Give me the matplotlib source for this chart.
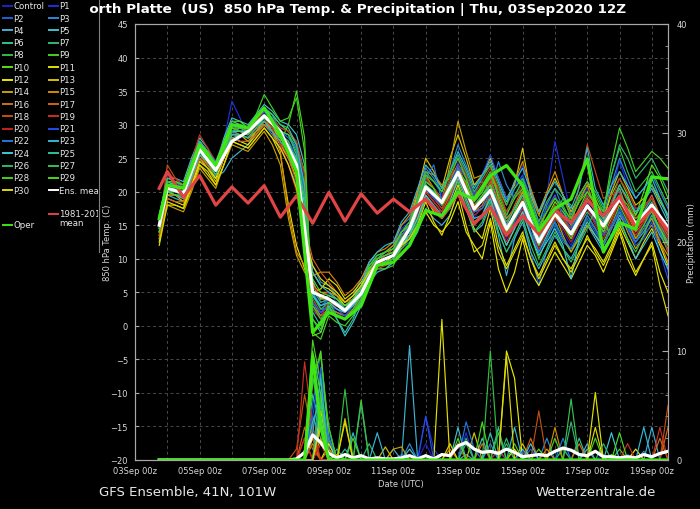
import matplotlib
matplotlib.use("Agg")
import matplotlib.pyplot as plt
import matplotlib.dates as mdates
from matplotlib.ticker import MultipleLocator, FixedLocator
from matplotlib.lines import Line2D
from matplotlib.transforms import Bbox
import numpy as np
import pandas as pd

plt.rcParams['font.family'] = ['DejaVu Sans']

# ---------------- data ----------------
TITLE = "North Platte  (US)  850 hPa Temp. & Precipitation | Thu, 03Sep2020 12Z"
FOOT_LEFT = "GFS Ensemble, 41N, 101W"
FOOT_RIGHT = "Wetterzentrale.de"
XLIM = ["2020-09-03 00:00", "2020-09-19 12:00"]
TICK_DATES = ["2020-09-03", "2020-09-05", "2020-09-07", "2020-09-09", "2020-09-11",
              "2020-09-13", "2020-09-15", "2020-09-17", "2020-09-19"]
TICK_LABELS = ["03Sep 00z", "05Sep 00z", "07Sep 00z", "09Sep 00z", "11Sep 00z",
               "13Sep 00z", "15Sep 00z", "17Sep 00z", "19Sep 00z"]
TEMP_TICKS = [-20, -15, -10, -5, 0, 5, 10, 15, 20, 25, 30, 35, 40, 45]
PREC_TICKS = [0, 10, 20, 30, 40]

# member series: 6-hourly 03Sep 18Z .. 19Sep 12Z (64 steps)
RUN_START = "2020-09-03 18:00"
RUN_END = "2020-09-19 12:00"
# mean / climate / oper: 03Sep 18Z, then 12-hourly 04Sep 00Z .. 19Sep 12Z (33 values)
LINE_FIRST = "2020-09-03 18:00"
LINE_START = "2020-09-04 00:00"

MEMBER_NAMES = ["Control"] + ["P%d" % i for i in range(1, 31)]
MEMBER_COLORS = ['#2020c8', '#2030d8', '#2060d8', '#3088d0', '#40b0d0', '#40c0c8',
                 '#30c098', '#30b870', '#30c040', '#48d020', '#58e010', '#e0e000',
                 '#e8e800', '#d8c000', '#c8a000', '#d88800', '#d07018', '#d06018',
                 '#c05010', '#c83020', '#c82020', '#2050e8', '#2078e0', '#30b8d8',
                 '#40c8d8', '#30c0a0', '#30b868', '#38c050', '#40d020', '#48d820',
                 '#e0d800']

# 850 hPa temperature (C); one row per day: 00Z, 06Z, 12Z, 18Z
T_CONTROL = [15.2,
    20.8, 20.5, 20.0, 23.0,  26.5, 25.0, 23.8, 26.0,  29.8, 28.0, 29.2, 30.5,
    31.8, 30.5, 28.0, 27.0,  25.5, 16.0, 4.0, 2.0,  3.5, 2.0, 1.0, 2.5,
    4.5, 8.0, 9.0, 9.5,  10.0, 13.0, 13.5, 17.0,  21.0, 19.0, 17.5, 20.0,
    24.5, 20.0, 16.0, 18.0,  20.5, 17.0, 13.0, 16.0,  19.0, 15.0, 11.5, 14.5,
    17.5, 14.0, 12.0, 15.0,  18.5, 16.0, 14.0, 17.0,  20.0, 17.0, 14.5, 17.0,
    19.5, 15.5, 12.0]
T_P1 = [16.0,
    21.5, 21.0, 20.5, 24.0,  27.0, 24.5, 23.0, 27.5,  33.5, 31.0, 28.0, 30.0,
    32.5, 31.0, 29.5, 29.0,  27.0, 22.0, 2.0, 1.5,  5.0, 3.5, 2.5, 3.0,
    6.0, 9.5, 10.5, 11.0,  11.5, 14.5, 15.5, 19.0,  22.5, 21.5, 19.5, 22.0,
    25.5, 22.5, 18.5, 20.0,  22.0, 19.0, 16.0, 20.5,  24.0, 20.0, 15.0, 19.5,
    27.5, 22.0, 16.5, 18.5,  20.5, 18.0, 15.5, 20.0,  24.5, 21.0, 17.0, 18.5,
    18.0, 13.0, 8.0]
T_P2 = [14.5,
    20.0, 19.5, 19.5, 22.0,  25.5, 24.0, 22.5, 25.5,  29.0, 27.5, 27.5, 28.5,
    30.5, 29.0, 27.0, 25.0,  23.0, 12.0, 7.0, 3.5,  4.0, 3.5, 3.0, 4.0,
    5.5, 7.5, 8.5, 8.5,  9.5, 11.5, 12.5, 15.0,  19.5, 17.5, 17.0, 17.5,
    21.0, 18.0, 15.5, 16.0,  19.0, 14.0, 11.0, 13.0,  16.5, 11.0, 6.0, 11.5,
    15.0, 12.5, 11.5, 13.0,  16.0, 14.0, 12.0, 14.5,  17.5, 15.0, 13.5, 15.0,
    17.0, 16.0, 14.5]
T_P3 = [15.5,
    21.0, 21.5, 20.5, 24.5,  27.5, 26.0, 24.5, 27.0,  30.0, 29.0, 29.5, 30.0,
    30.0, 28.5, 26.5, 24.0,  21.0, 14.0, 9.0, 6.5,  6.0, 4.5, 3.5, 4.5,
    7.0, 9.0, 10.0, 11.0,  12.0, 15.0, 16.0, 19.5,  23.5, 22.0, 20.0, 23.0,
    27.0, 24.0, 21.0, 21.5,  20.0, 24.5, 21.0, 19.0,  22.0, 17.0, 14.0, 18.0,
    20.5, 17.5, 15.0, 17.0,  19.5, 18.5, 16.5, 21.0,  25.0, 22.0, 19.0, 20.5,
    22.5, 20.0, 17.5]
T_P4 = [13.0,
    19.5, 19.0, 18.5, 21.5,  25.0, 23.5, 22.0, 23.0,  25.0, 26.0, 27.0, 29.0,
    31.0, 30.5, 29.0, 28.5,  26.5, 20.0, 5.0, 2.5,  2.5, 2.0, 1.5, 2.0,
    3.5, 6.5, 8.0, 8.5,  9.5, 10.5, 12.0, 14.0,  17.5, 16.0, 15.0, 16.5,
    20.0, 17.5, 14.0, 15.0,  18.0, 13.5, 7.5, 13.0,  15.5, 11.0, 8.5, 11.0,
    13.5, 11.5, 10.0, 12.5,  15.0, 13.0, 11.0, 13.5,  16.5, 14.5, 12.5, 14.0,
    16.0, 13.5, 11.5]
T_P5 = [16.5,
    22.0, 22.0, 21.5, 25.0,  28.0, 26.5, 24.0, 28.0,  31.0, 30.5, 30.0, 31.5,
    33.0, 32.0, 30.5, 30.0,  28.5, 24.0, 1.0, -1.0,  3.0, 1.0, -1.5, 0.5,
    3.0, 7.5, 9.5, 10.0,  10.5, 13.0, 14.0, 17.5,  20.0, 19.5, 18.5, 21.0,
    23.0, 20.0, 17.0, 17.5,  19.5, 16.5, 14.0, 16.0,  18.0, 15.0, 11.0, 13.5,
    16.0, 15.0, 14.0, 16.0,  17.5, 16.5, 15.0, 18.5,  21.0, 19.0, 16.5, 18.5,
    20.5, 18.0, 15.5]
T_P6 = [14.0,
    20.0, 19.5, 19.0, 22.5,  26.0, 25.0, 23.5, 26.0,  29.5, 29.0, 28.5, 30.0,
    31.5, 30.0, 28.5, 27.5,  24.0, 15.0, 6.0, 4.0,  4.5, 4.0, 3.0, 3.5,
    5.0, 8.5, 10.0, 10.5,  11.0, 13.5, 14.5, 18.0,  21.5, 20.5, 19.0, 20.0,
    22.5, 21.0, 18.0, 19.5,  21.5, 18.5, 15.5, 17.5,  20.0, 17.0, 13.5, 15.5,
    18.0, 16.0, 14.5, 17.0,  19.0, 17.5, 16.0, 18.0,  20.5, 17.0, 15.0, 16.5,
    18.5, 15.0, 13.0]
T_P7 = [15.0,
    20.5, 20.0, 19.5, 22.0,  26.0, 24.0, 22.0, 25.0,  28.0, 28.5, 28.0, 29.0,
    30.0, 29.5, 28.0, 27.0,  25.0, 19.0, 3.5, 1.5,  2.0, 1.5, 1.0, 2.0,
    4.0, 7.0, 9.0, 9.5,  10.0, 12.0, 13.0, 16.5,  20.5, 19.0, 18.0, 19.5,
    22.0, 20.0, 17.5, 18.5,  20.0, 17.5, 14.5, 16.0,  17.5, 15.0, 12.0, 14.0,
    16.5, 19.0, 18.0, 15.0,  17.0, 15.5, 14.0, 16.5,  19.0, 17.5, 16.0, 17.0,
    19.0, 16.5, 14.0]
T_P8 = [16.0,
    21.0, 20.5, 20.0, 23.5,  27.0, 26.0, 24.0, 27.0,  30.0, 29.5, 29.0, 31.0,
    32.0, 31.5, 29.0, 28.5,  26.0, 21.0, 4.5, 2.5,  3.5, 3.0, 2.0, 3.5,
    5.0, 9.0, 10.5, 11.0,  11.5, 14.0, 15.0, 18.5,  22.0, 20.5, 19.0, 21.5,
    24.0, 22.5, 19.0, 21.0,  23.0, 20.0, 17.0, 19.5,  21.5, 18.5, 15.0, 17.0,
    19.0, 18.0, 15.5, 19.0,  21.0, 19.5, 17.0, 22.5,  26.5, 23.0, 20.0, 21.5,
    23.0, 20.5, 18.0]
T_P9 = [14.5,
    20.5, 20.5, 20.0, 23.0,  26.5, 25.5, 23.5, 26.5,  29.0, 29.5, 29.0, 30.5,
    31.0, 29.5, 27.5, 30.0,  35.0, 28.0, -1.0, -2.0,  1.5, 0.5, 0.0, 1.5,
    3.5, 7.0, 8.5, 8.5,  9.0, 12.0, 13.5, 16.0,  19.5, 17.5, 16.5, 19.0,
    21.5, 18.5, 15.5, 16.5,  19.5, 15.0, 12.0, 14.5,  17.0, 13.5, 10.0, 13.0,
    15.5, 13.0, 11.0, 13.5,  16.5, 14.5, 12.5, 15.0,  18.0, 15.5, 13.0, 15.0,
    17.5, 14.0, 11.0]
T_P10 = [15.5,
    21.5, 21.0, 20.5, 24.0,  27.5, 26.0, 24.0, 27.5,  30.5, 30.5, 29.5, 31.0,
    32.5, 31.5, 30.0, 29.0,  27.0, 23.0, -1.5, -1.0,  2.5, 1.5, 1.0, 2.0,
    4.0, 8.0, 9.5, 9.5,  10.0, 12.5, 14.0, 17.5,  21.0, 20.0, 18.5, 21.0,
    23.5, 21.0, 18.0, 19.0,  21.0, 17.5, 14.0, 17.0,  19.5, 16.5, 13.0, 16.0,
    18.5, 17.0, 15.0, 17.5,  20.0, 18.0, 16.0, 19.5,  22.0, 19.5, 16.5, 20.0,
    24.0, 22.0, 19.0]
T_P11 = [13.5,
    19.0, 18.5, 18.0, 21.0,  24.0, 23.0, 21.0, 24.0,  27.5, 27.0, 26.5, 28.0,
    29.5, 28.0, 25.5, 18.0,  12.0, 8.5, 5.0, 5.5,  7.0, 6.0, 4.0, 5.0,
    6.5, 8.5, 10.0, 10.5,  11.0, 13.0, 14.5, 16.5,  19.0, 17.0, 16.0, 18.0,
    21.0, 17.5, 14.5, 13.0,  17.5, 12.0, 9.0, 11.5,  14.0, 10.0, 7.0, 9.5,
    12.0, 10.0, 8.5, 11.0,  13.0, 11.5, 9.5, 12.0,  15.0, 12.5, 10.0, 12.5,
    14.5, 12.0, 9.0]
T_P12 = [12.5,
    18.5, 18.0, 17.5, 21.0,  24.5, 23.5, 22.0, 25.0,  28.0, 27.5, 27.0, 28.5,
    30.0, 29.0, 27.0, 25.0,  22.0, 14.0, 8.0, 6.0,  5.5, 4.5, 3.0, 4.0,
    5.5, 8.0, 9.0, 9.5,  10.5, 12.0, 13.0, 15.0,  17.0, 15.0, 14.0, 15.5,
    18.5, 14.0, 12.0, 10.0,  15.5, 8.5, 5.0, 8.0,  13.0, 8.0, 6.0, 8.5,
    11.0, 9.0, 7.0, 9.5,  12.0, 10.5, 8.0, 11.0,  14.0, 10.0, 7.5, 10.0,
    12.5, 8.0, 5.0]
T_P13 = [14.0,
    19.5, 19.5, 18.5, 22.0,  25.0, 23.5, 21.5, 25.0,  28.5, 28.5, 27.5, 29.0,
    30.5, 29.5, 28.0, 27.0,  24.5, 16.0, 6.5, 4.0,  4.0, 3.5, 2.5, 3.5,
    4.5, 8.5, 9.5, 10.0,  10.5, 13.5, 15.0, 20.0,  25.0, 23.0, 20.5, 25.0,
    28.5, 25.0, 21.0, 22.5,  25.0, 22.0, 19.0, 21.0,  26.5, 19.5, 16.5, 19.5,
    22.0, 19.5, 17.0, 19.5,  21.5, 19.0, 16.0, 20.0,  23.0, 20.5, 18.0, 19.0,
    21.0, 18.5, 16.5]
T_P14 = [13.0,
    18.0, 17.5, 17.0, 20.0,  23.5, 22.0, 20.5, 24.0,  27.0, 26.5, 26.0, 27.5,
    29.0, 27.0, 24.0, 16.0,  10.5, 8.0, 6.0, 5.0,  5.0, 4.5, 3.5, 4.5,
    6.0, 8.5, 10.0, 11.0,  12.0, 14.0, 15.5, 19.0,  22.5, 20.5, 18.5, 24.0,
    30.5, 26.0, 22.0, 22.5,  24.0, 19.0, 16.0, 17.5,  20.0, 15.5, 13.0, 14.5,
    16.5, 13.5, 11.0, 13.0,  15.0, 13.5, 12.0, 14.5,  17.0, 14.0, 11.5, 13.5,
    15.0, 12.5, 10.5]
T_P15 = [14.5,
    19.5, 19.5, 19.0, 22.0,  25.5, 24.0, 22.5, 25.5,  28.5, 28.5, 28.0, 29.0,
    30.5, 29.0, 26.0, 17.0,  11.0, 9.0, 7.5, 8.0,  8.0, 6.5, 4.5, 5.5,
    7.0, 9.5, 11.0, 11.5,  12.5, 15.0, 16.5, 20.0,  23.0, 22.5, 21.0, 22.0,
    24.0, 22.0, 19.5, 20.5,  22.5, 20.5, 18.0, 21.5,  24.5, 20.5, 17.0, 20.0,
    23.0, 19.5, 16.0, 18.5,  21.0, 17.5, 14.5, 16.5,  19.0, 16.0, 13.0, 14.5,
    16.0, 12.5, 9.5]
T_P16 = [15.0,
    20.0, 20.0, 19.5, 22.5,  26.0, 24.5, 23.0, 26.0,  29.5, 29.0, 28.5, 30.0,
    31.0, 30.0, 28.5, 27.5,  23.5, 13.0, 3.0, 1.5,  2.5, 2.0, 1.5, 2.5,
    4.0, 7.5, 9.0, 9.5,  10.0, 12.5, 13.5, 16.5,  20.0, 18.5, 17.0, 19.5,
    22.5, 20.0, 17.0, 18.0,  20.5, 16.5, 13.5, 16.0,  18.5, 20.0, 16.5, 15.0,
    17.0, 15.0, 13.0, 15.5,  18.0, 15.5, 13.5, 16.0,  18.5, 16.5, 14.0, 15.5,
    17.5, 15.5, 13.5]
T_P17 = [13.5,
    19.0, 18.5, 18.5, 21.5,  25.0, 24.0, 22.5, 25.0,  28.0, 27.5, 27.5, 28.5,
    30.0, 29.0, 27.5, 25.0,  21.5, 15.0, 10.0, 8.0,  6.5, 5.0, 3.5, 4.0,
    5.5, 8.5, 9.5, 10.5,  11.5, 13.0, 14.0, 17.5,  21.0, 19.5, 18.0, 20.5,
    23.0, 21.0, 18.5, 20.0,  22.0, 18.5, 15.0, 18.0,  20.5, 17.5, 14.5, 17.0,
    19.5, 16.0, 13.5, 15.5,  18.0, 16.0, 14.5, 18.0,  21.0, 18.5, 16.0, 17.5,
    19.5, 16.5, 14.0]
T_P18 = [14.5,
    24.0, 22.0, 20.5, 24.0,  27.5, 25.5, 23.0, 26.5,  29.0, 28.5, 28.0, 29.5,
    31.5, 30.0, 28.5, 27.0,  24.0, 17.0, 4.0, 2.0,  3.0, 2.5, 2.0, 3.0,
    4.5, 7.5, 8.5, 9.0,  9.5, 11.5, 13.0, 16.5,  20.5, 19.0, 17.5, 20.0,
    24.0, 21.0, 18.0, 19.0,  21.5, 17.0, 14.5, 16.5,  19.0, 15.5, 13.0, 15.0,
    17.5, 16.0, 14.5, 21.0,  27.0, 23.0, 19.0, 19.5,  20.0, 17.0, 14.5, 16.0,
    17.0, 14.5, 12.5]
T_P19 = [15.0,
    22.5, 22.0, 21.0, 24.5,  28.5, 26.5, 24.5, 27.5,  30.5, 30.0, 29.0, 30.5,
    32.0, 31.0, 29.5, 29.0,  27.5, 22.5, 2.5, 1.0,  4.0, 2.5, 1.5, 2.5,
    4.0, 8.0, 9.0, 10.0,  10.5, 13.5, 14.5, 18.0,  22.0, 20.5, 19.0, 22.0,
    25.0, 22.5, 19.5, 21.5,  23.5, 20.5, 17.0, 19.0,  21.0, 17.5, 14.0, 16.0,
    18.0, 16.0, 14.0, 16.5,  19.5, 17.5, 15.0, 18.5,  22.0, 20.0, 17.5, 18.0,
    19.0, 15.0, 11.0]
T_P20 = [14.0,
    20.5, 20.0, 19.5, 22.5,  26.0, 24.5, 23.0, 26.0,  29.5, 29.0, 28.5, 29.5,
    31.0, 29.5, 27.0, 24.0,  20.0, 12.0, 6.0, 4.5,  5.0, 4.0, 2.5, 3.5,
    5.0, 8.0, 10.0, 10.5,  11.0, 12.5, 14.0, 16.5,  20.0, 18.5, 17.0, 19.0,
    22.0, 19.5, 16.5, 17.5,  19.5, 15.5, 12.5, 15.0,  17.5, 14.0, 11.5, 14.0,
    16.0, 14.5, 12.5, 15.0,  17.5, 15.0, 13.0, 15.5,  18.5, 16.0, 13.5, 15.5,
    18.0, 15.5, 13.0]
T_P21 = [15.5,
    21.0, 20.5, 20.0, 23.0,  26.5, 25.0, 23.0, 26.5,  29.0, 29.0, 28.5, 30.0,
    31.5, 30.0, 28.5, 27.5,  25.5, 18.0, 3.5, 2.0,  3.0, 2.5, 1.5, 3.0,
    5.0, 8.0, 9.5, 10.0,  10.5, 13.0, 14.0, 17.0,  20.5, 19.0, 18.0, 21.0,
    24.0, 22.0, 19.5, 22.5,  25.5, 22.0, 19.0, 20.5,  22.5, 19.0, 15.5, 17.5,
    19.5, 16.5, 14.5, 16.5,  18.0, 15.5, 13.5, 15.0,  17.0, 14.5, 12.0, 13.0,
    15.5, 11.0, 7.0]
T_P22 = [16.0,
    21.5, 21.5, 21.0, 24.0,  27.5, 26.0, 24.5, 27.5,  30.0, 30.0, 29.5, 31.0,
    32.0, 31.0, 29.0, 28.0,  26.5, 20.0, 5.0, 3.0,  4.0, 3.0, 2.0, 3.5,
    5.5, 8.5, 10.0, 10.5,  11.0, 13.5, 15.0, 18.0,  22.0, 24.0, 18.5, 20.0,
    23.5, 20.0, 17.0, 17.5,  20.0, 16.0, 13.5, 15.5,  18.0, 14.0, 11.0, 13.0,
    15.5, 13.0, 11.5, 14.0,  16.5, 14.5, 12.0, 14.5,  17.0, 15.0, 12.5, 14.5,
    16.5, 14.0, 12.0]
T_P23 = [14.0,
    20.0, 19.5, 19.0, 22.0,  25.5, 24.5, 22.5, 25.5,  28.5, 28.5, 28.0, 29.5,
    30.5, 29.0, 27.5, 26.0,  23.5, 15.5, 8.0, 6.0,  5.0, 4.0, 2.5, 4.0,
    6.0, 9.5, 11.0, 12.0,  12.5, 15.5, 17.0, 20.5,  24.0, 22.5, 20.5, 23.0,
    26.0, 23.5, 20.5, 22.5,  24.5, 21.5, 18.5, 21.5,  23.5, 20.0, 17.0, 19.5,
    21.5, 19.5, 17.5, 20.5,  26.5, 20.5, 18.0, 21.0,  23.0, 21.0, 19.0, 20.5,
    22.0, 19.0, 16.0]
T_P24 = [15.0,
    20.5, 20.0, 20.0, 23.0,  26.0, 25.0, 23.0, 26.0,  29.0, 29.0, 29.0, 30.0,
    31.0, 30.0, 28.0, 27.0,  25.0, 18.0, 4.5, 3.0,  3.5, 2.5, 2.0, 3.0,
    4.5, 7.5, 9.0, 9.5,  10.0, 12.0, 13.5, 16.0,  19.5, 18.0, 16.5, 18.5,
    22.0, 19.0, 16.0, 16.5,  19.0, 15.0, 12.0, 14.5,  17.0, 13.5, 10.5, 12.5,
    14.5, 12.0, 7.0, 13.0,  15.5, 13.5, 11.5, 13.5,  16.0, 13.0, 10.0, 12.0,
    14.0, 11.0, 8.5]
T_P25 = [16.5,
    22.0, 21.5, 21.0, 24.5,  27.5, 26.0, 24.0, 27.5,  30.5, 30.0, 29.5, 31.0,
    32.5, 31.5, 30.0, 29.5,  27.0, 21.0, 2.0, 0.0,  3.0, 1.0, -1.0, 1.0,
    4.0, 8.0, 9.5, 10.0,  10.5, 12.5, 13.5, 17.0,  21.0, 20.0, 18.5, 20.0,
    22.5, 20.0, 17.5, 19.0,  21.0, 18.0, 15.0, 17.5,  19.5, 16.0, 13.0, 15.5,
    17.5, 15.5, 14.0, 16.5,  19.0, 17.0, 15.5, 18.0,  21.0, 19.0, 17.0, 18.5,
    21.0, 19.0, 16.5]
T_P26 = [14.5,
    20.0, 20.0, 19.5, 22.5,  26.0, 24.5, 22.5, 25.5,  29.0, 28.5, 28.0, 29.5,
    31.0, 30.0, 28.5, 27.5,  24.5, 17.0, 5.5, 3.5,  4.0, 3.5, 2.5, 3.5,
    5.0, 8.5, 10.0, 11.0,  11.5, 14.0, 15.5, 19.0,  23.0, 21.5, 20.0, 23.0,
    25.5, 23.0, 20.0, 22.0,  24.0, 21.0, 18.0, 20.5,  22.0, 19.0, 15.5, 18.5,
    20.5, 19.0, 16.5, 19.5,  21.5, 20.0, 17.5, 22.5,  27.0, 25.0, 22.0, 23.5,
    25.0, 22.5, 20.0]
T_P27 = [15.0,
    21.0, 21.0, 20.5, 23.5,  27.0, 25.5, 23.5, 26.5,  29.5, 29.5, 29.0, 30.5,
    31.5, 30.5, 29.0, 28.5,  25.5, 19.0, 3.0, 1.0,  2.5, 1.5, 1.0, 2.0,
    4.0, 7.0, 9.0, 9.5,  10.0, 11.5, 13.0, 15.5,  19.0, 17.5, 16.0, 17.5,
    20.5, 17.5, 14.0, 15.5,  18.5, 14.0, 11.0, 13.5,  16.0, 12.0, 9.0, 11.5,
    14.0, 11.5, 9.5, 12.0,  14.5, 17.5, 16.0, 13.0,  15.5, 13.0, 11.0, 13.5,
    16.5, 14.5, 12.5]
T_P28 = [16.0,
    21.5, 21.5, 21.0, 24.0,  27.0, 26.0, 24.0, 27.0,  30.0, 30.0, 29.5, 31.5,
    34.5, 32.5, 30.5, 31.0,  34.0, 26.0, 1.0, -0.5,  3.5, 1.5, 1.0, 2.5,
    4.5, 9.0, 10.5, 11.0,  11.5, 14.0, 15.0, 18.5,  22.5, 21.5, 20.0, 22.5,
    25.0, 22.0, 18.5, 20.0,  22.5, 19.5, 16.5, 19.0,  20.5, 17.5, 14.5, 17.0,
    19.0, 17.5, 16.0, 18.5,  20.0, 18.5, 17.0, 24.0,  29.5, 26.5, 23.0, 24.5,
    26.0, 25.0, 23.5]
T_P29 = [14.0,
    20.0, 19.5, 19.5, 22.5,  26.0, 24.5, 23.0, 26.0,  29.5, 29.0, 28.5, 30.0,
    31.0, 30.0, 28.0, 26.5,  24.0, 16.0, 7.0, 5.0,  4.5, 4.0, 3.0, 4.0,
    5.5, 8.5, 10.0, 10.5,  11.0, 13.0, 14.5, 18.0,  21.5, 20.5, 18.0, 20.0,
    23.0, 21.5, 17.5, 19.5,  21.0, 17.0, 13.5, 16.0,  18.5, 15.5, 12.0, 15.0,
    17.5, 15.0, 13.0, 15.5,  18.0, 16.5, 14.0, 17.0,  19.5, 18.0, 15.5, 16.0,
    17.0, 14.5, 12.0]
T_P30 = [12.0,
    18.0, 18.0, 17.5, 20.5,  24.0, 22.5, 21.0, 24.0,  27.5, 27.0, 26.5, 28.0,
    29.5, 28.0, 26.5, 24.0,  20.5, 13.5, 9.0, 7.0,  6.0, 5.0, 3.5, 4.5,
    6.0, 8.0, 9.5, 10.0,  10.5, 12.0, 13.0, 15.0,  18.5, 15.5, 13.5, 16.5,
    20.0, 15.0, 11.0, 12.0,  16.0, 11.0, 8.5, 11.0,  13.5, 10.0, 7.5, 10.0,
    12.5, 10.0, 8.0, 10.5,  13.5, 11.0, 9.0, 11.5,  14.5, 11.0, 8.0, 10.0,
    12.0, 6.0, 1.5]

T_ENS_MEAN = [15.0, 20.5, 19.8, 26.3, 23.2, 27.5, 29.0, 31.3, 29.0, 24.0, 5.0, 4.0, 2.3, 4.8, 9.5, 10.5, 14.5, 20.7, 18.4, 22.9, 17.4, 20.2, 14.4, 18.4, 12.5, 16.7, 13.7, 17.9, 14.9, 18.9, 15.2, 18.0, 14.7]
T_CLIMATE = [20.5, 23.0, 19.2, 22.4, 18.0, 20.7, 18.3, 20.9, 16.2, 19.4, 15.3, 19.9, 15.6, 19.7, 16.8, 18.9, 17.0, 18.9, 16.2, 19.7, 15.2, 17.7, 13.5, 16.4, 13.7, 17.2, 15.4, 18.7, 16.4, 19.3, 14.7, 17.4, 14.2]
T_OPER = [16.0, 21.0, 20.5, 27.0, 24.0, 30.0, 29.5, 32.5, 28.5, 23.0, -1.0, 2.0, 1.0, 3.0, 9.0, 9.5, 12.0, 17.2, 16.4, 19.9, 18.9, 22.4, 23.9, 20.9, 14.2, 17.5, 18.9, 24.9, 11.0, 15.4, 14.4, 22.2, 21.9]

# precipitation (mm): {6-hourly step index: amount}, all other steps are 0
R_CONTROL = {19: 3.0, 20: 6.5, 21: 1.0, 33: 1.5, 42: 0.8, 55: 0.5}
R_P1 = {19: 2.0, 20: 4.0, 21: 2.5, 33: 4.0, 34: 1.0, 38: 2.5, 50: 1.2}
R_P2 = {19: 5.0, 20: 9.9, 21: 1.5, 30: 0.5, 46: 1.0, 58: 0.5}
R_P3 = {20: 3.0, 21: 1.0, 31: 1.5, 41: 1.5, 48: 2.0, 60: 0.8}
R_P4 = {19: 4.0, 20: 2.0, 29: 1.0, 31: 10.5, 38: 0.5, 53: 1.5, 61: 3.0}
R_P5 = {20: 5.0, 21: 2.0, 37: 3.0, 40: 2.0, 45: 1.0}
R_P6 = {19: 6.0, 20: 3.0, 23: 1.0, 42: 3.0, 52: 2.0}
R_P7 = {20: 8.0, 21: 3.0, 26: 1.5, 38: 2.0, 43: 1.5, 51: 3.5}
R_P8 = {19: 9.0, 20: 5.0, 23: 6.5, 41: 10.0, 50: 1.0}
R_P9 = {19: 11.0, 20: 7.0, 21: 1.0, 25: 5.5, 49: 2.0, 57: 1.0}
R_P10 = {19: 7.0, 20: 10.0, 21: 2.0, 47: 1.0, 56: 0.5}
R_P11 = {20: 4.5, 22: 0.5, 35: 12.9, 44: 1.0, 54: 6.2}
R_P12 = {19: 2.0, 21: 1.5, 43: 10.0, 44: 7.5, 59: 1.0}
R_P13 = {20: 3.0, 23: 3.8, 28: 1.2, 39: 2.5, 45: 1.5}
R_P14 = {20: 2.0, 29: 1.0, 30: 1.2, 37: 1.5, 48: 1.0}
R_P15 = {19: 1.5, 21: 1.0, 36: 1.0, 49: 3.0}
R_P16 = {18: 2.0, 20: 1.5, 40: 1.5, 52: 1.5, 62: 2.0}
R_P17 = {18: 3.0, 19: 1.0, 46: 2.0, 63: 3.0}
R_P18 = {17: 1.0, 18: 6.0, 19: 2.0, 47: 4.5, 63: 5.0}
R_P19 = {18: 9.0, 19: 3.0, 42: 1.0, 58: 1.5, 62: 3.0}
R_P20 = {18: 2.0, 20: 1.5, 37: 1.5, 53: 1.0}
R_P21 = {19: 4.0, 20: 8.5, 33: 4.0, 45: 0.8}
R_P22 = {20: 6.0, 21: 2.0, 38: 3.5, 39: 1.0, 50: 2.0}
R_P23 = {19: 2.5, 20: 7.5, 24: 2.5, 27: 2.5, 44: 3.0, 60: 3.0}
R_P24 = {20: 4.0, 31: 1.0, 46: 1.5, 56: 2.5}
R_P25 = {19: 3.5, 20: 5.5, 41: 2.5, 53: 1.0}
R_P26 = {20: 6.0, 22: 1.0, 25: 5.1, 38: 1.5, 43: 2.0, 55: 1.5}
R_P27 = {19: 7.5, 20: 4.0, 42: 2.5, 51: 5.6}
R_P28 = {19: 8.0, 20: 9.5, 21: 3.0, 44: 1.5, 54: 2.0}
R_P29 = {19: 10.0, 20: 6.0, 24: 2.0, 37: 2.0, 40: 3.5, 57: 2.5}
R_P30 = {20: 3.5, 23: 3.5, 36: 1.5, 43: 9.5, 54: 3.0}
R_OPER = {19: 9.5, 20: 3.0}
R_ENS_MEAN = {17: 0.1, 18: 0.7, 19: 2.3, 20: 1.6, 21: 0.6, 22: 0.2, 23: 0.5, 24: 0.2,
              25: 0.4, 26: 0.1, 27: 0.2, 28: 0.1, 29: 0.1, 30: 0.2, 31: 0.4, 32: 0.1,
              33: 0.4, 34: 0.1, 35: 0.5, 36: 0.4, 37: 1.3, 38: 1.6, 39: 1.0, 40: 0.7,
              41: 0.8, 42: 0.6, 43: 1.0, 44: 0.7, 45: 0.3, 46: 0.4, 47: 0.5, 48: 0.4,
              49: 0.8, 50: 1.1, 51: 0.9, 52: 0.5, 53: 0.4, 54: 0.8, 55: 0.3, 56: 0.3,
              57: 0.2, 58: 0.3, 59: 0.2, 60: 0.5, 61: 0.3, 62: 0.6, 63: 0.8}

MEMBER_TEMPS = [T_CONTROL, T_P1, T_P2, T_P3, T_P4, T_P5, T_P6, T_P7, T_P8, T_P9, T_P10,
                T_P11, T_P12, T_P13, T_P14, T_P15, T_P16, T_P17, T_P18, T_P19, T_P20,
                T_P21, T_P22, T_P23, T_P24, T_P25, T_P26, T_P27, T_P28, T_P29, T_P30]
MEMBER_PRECS = [R_CONTROL, R_P1, R_P2, R_P3, R_P4, R_P5, R_P6, R_P7, R_P8, R_P9, R_P10,
                R_P11, R_P12, R_P13, R_P14, R_P15, R_P16, R_P17, R_P18, R_P19, R_P20,
                R_P21, R_P22, R_P23, R_P24, R_P25, R_P26, R_P27, R_P28, R_P29, R_P30]

COL_ENS = '#ffffff'
COL_CLIM = '#e04444'
COL_OPER = '#3ee614'

# ---------------- figure ----------------
W, H = 700, 510
fig = plt.figure(figsize=(W / 100, H / 100), dpi=100, facecolor='black')

def fx(px):
    return px / W

def fy(py):
    return 1 - py / H

AX_L, AX_R, AX_T, AX_B = 135, 668, 25, 461
ax = fig.add_axes([fx(AX_L), fy(AX_B), fx(AX_R - AX_L), (AX_B - AX_T) / H])
ax.set_facecolor('black')
ax2 = ax.twinx()
ax2.patch.set_visible(False)

run_times = pd.date_range(RUN_START, RUN_END, freq='6h')
line_times = pd.DatetimeIndex([pd.Timestamp(LINE_FIRST)]).append(
    pd.date_range(LINE_START, RUN_END, freq='12h'))

def prec_series(d):
    s = np.zeros(len(run_times))
    for k, v in d.items():
        s[k] = v
    return s

for vals, col in zip(MEMBER_TEMPS, MEMBER_COLORS):
    ax.plot(run_times, vals, color=col, lw=0.85, zorder=2)
for d, col in zip(MEMBER_PRECS, MEMBER_COLORS):
    ax2.plot(run_times, prec_series(d), color=col, lw=0.85, zorder=2)

ax.plot(line_times, T_ENS_MEAN, color=COL_ENS, lw=2.3, zorder=5)
ax.plot(line_times, T_CLIMATE, color=COL_CLIM, lw=2.3, zorder=6)
ax.plot(line_times, T_OPER, color=COL_OPER, lw=2.3, zorder=7)
ax2.plot(run_times, prec_series(R_ENS_MEAN), color=COL_ENS, lw=2.3, zorder=5)
ax2.plot(run_times, prec_series(R_OPER), color=COL_OPER, lw=2.3, zorder=7)

ax.set_xlim(pd.Timestamp(XLIM[0]), pd.Timestamp(XLIM[1]))
ax.set_ylim(TEMP_TICKS[0], TEMP_TICKS[-1])
ax2.set_ylim(PREC_TICKS[0], PREC_TICKS[-1])

ax.xaxis.set_major_locator(FixedLocator(mdates.date2num(pd.to_datetime(TICK_DATES))))
ax.set_xticklabels(TICK_LABELS)
ax.xaxis.set_minor_locator(mdates.DayLocator())
ax.set_yticks(TEMP_TICKS)
ax2.set_yticks(PREC_TICKS)
ax2.yaxis.set_minor_locator(MultipleLocator(2))

grid_kw = dict(color='#4a4a4a', lw=0.7, linestyle=(0, (3, 3)))
ax.grid(True, which='both', axis='x', **grid_kw)
ax.grid(True, which='major', axis='y', **grid_kw)
ax.set_axisbelow(True)

lab_col = '#d8d8d8'
ax.tick_params(axis='x', which='both', length=0, labelsize=6, colors=lab_col, pad=4)
ax.tick_params(axis='y', which='both', direction='in', length=3, labelsize=6,
               colors='#aaaaaa', labelcolor=lab_col, pad=5)
ax2.tick_params(axis='y', which='major', direction='in', length=4, labelsize=6,
                colors='#aaaaaa', labelcolor=lab_col, pad=6)
ax2.tick_params(axis='y', which='minor', direction='in', length=2.5, colors='#aaaaaa')
for a in (ax, ax2):
    for sp in a.spines.values():
        sp.set_color('#a8a8a8')
        sp.set_linewidth(0.8)

fig.text(fx(108), fy(243), "850 hPa Temp. (C)", rotation=90, ha='center', va='center',
         fontsize=6, color=lab_col)
fig.text(fx(692), fy(243), "Precipitation (mm)", rotation=90, ha='center', va='center',
         fontsize=6.2, color=lab_col)
fig.text(fx(401), fy(485), "Date (UTC)", ha='center', va='center', fontsize=6, color=lab_col)

t = fig.text(fx(626), fy(9.5), TITLE, ha='right', va='center', fontsize=9.7,
             fontweight='bold', color='white')
t.set_clip_box(Bbox.from_extents(90, 0, W, H))
t.set_clip_on(True)

fig.text(fx(99), fy(493), FOOT_LEFT, ha='left', va='center', fontsize=9.5, color='#e8e8e8')
fig.text(fx(536), fy(493), FOOT_RIGHT, ha='left', va='center', fontsize=9.5, color='#e8e8e8')

# ---------------- legend (left panel) ----------------
LEG_FS = 6.2
leg_clip = Bbox.from_extents(0, 0, 98, H)
legend_items = list(zip(MEMBER_NAMES, MEMBER_COLORS)) + [("Ens. mean", COL_ENS)]
row0, dy = 6.7, 12.3
for k, (name, col) in enumerate(legend_items):
    row, c = divmod(k, 2)
    y = row0 + dy * row
    x0 = 3 if c == 0 else 49
    fig.add_artist(Line2D([fx(x0), fx(x0 + 9)], [fy(y), fy(y)], color=col, lw=1.4))
    tt = fig.text(fx(x0 + 10), fy(y), name, ha='left', va='center', fontsize=LEG_FS,
                  color='#e8e8e8')
    tt.set_clip_box(leg_clip)
    tt.set_clip_on(True)
y_clim = 215
fig.add_artist(Line2D([fx(49), fx(58)], [fy(y_clim), fy(y_clim)], color=COL_CLIM, lw=1.4))
tt = fig.text(fx(59), fy(y_clim - 4.5), "1981-2010\nmean", ha='left', va='top',
              fontsize=LEG_FS, color='#e8e8e8', linespacing=1.0)
tt.set_clip_box(leg_clip)
tt.set_clip_on(True)
y_op = 225.7
fig.add_artist(Line2D([fx(3), fx(12)], [fy(y_op), fy(y_op)], color=COL_OPER, lw=1.4))
fig.text(fx(13), fy(y_op), "Oper", ha='left', va='center', fontsize=LEG_FS, color='#e8e8e8')
fig.add_artist(Line2D([fx(98.5), fx(98.5)], [fy(0), fy(253)], color='#808080', lw=0.8))

fig.savefig("out.png", dpi=100, facecolor='black')
